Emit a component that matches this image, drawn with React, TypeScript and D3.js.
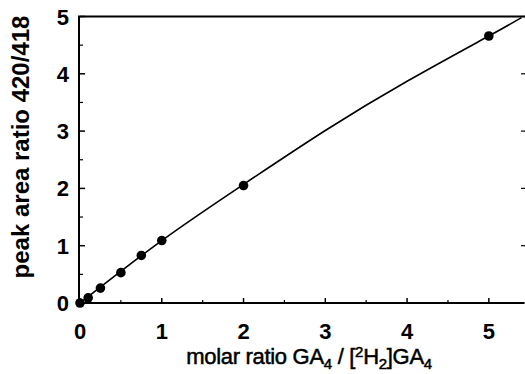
import React from "react";
import * as d3 from "d3";

const pointX = [0, 0.1, 0.25, 0.5, 0.75, 1, 2, 5];
const pointY = [0, 0.09, 0.26, 0.53, 0.83, 1.09, 2.05, 4.66];
const curveX = [0, 1, 2, 3, 4, 5, 5.4];
const curveY = [0, 1.09, 2.07, 3.01, 3.87, 4.66, 4.98];
const xTicks = [0, 1, 2, 3, 4, 5];
const yTicks = [0, 1, 2, 3, 4, 5];
const xMinor = [0.5, 1.5, 2.5, 3.5, 4.5];
const yMinor = [0.5, 1.5, 2.5, 3.5, 4.5];

export default function App() {
  const W = 525, H = 374;
  const x = d3.scaleLinear().domain([0, 5.43]).range([80, 524]);
  const y = d3.scaleLinear().domain([0, 5]).range([303, 16.5]);
  const line = d3
    .line<number>()
    .x((_, i) => x(curveX[i]))
    .y((_, i) => y(curveY[i]))
    .curve(d3.curveNatural);
  const font = "'Liberation Sans', Arial, sans-serif";
  return (
    <svg
      width={W}
      height={H}
      style={{ position: "absolute", left: 0, top: 0, background: "#fff" }}
      fontFamily={font}
    >
      <defs>
        <clipPath id="plot">
          <rect x={x(0)} y={y(5)} width={525 - x(0)} height={y(0) - y(5)} />
        </clipPath>
      </defs>
      <path
        d={line(curveX) || ""}
        fill="none"
        stroke="#000"
        strokeWidth={1.6}
        clipPath="url(#plot)"
      />
      {pointX.map((v, i) => (
        <circle key={i} cx={x(v)} cy={y(pointY[i])} r={4.8} fill="#000" />
      ))}
      {/* axes */}
      <line x1={x(0) - 1} x2={x(0) - 1} y1={y(5)} y2={y(0) + 1} stroke="#000" strokeWidth={2} />
      <line x1={x(0) - 1} x2={524} y1={y(0)} y2={y(0)} stroke="#000" strokeWidth={2} />
      <line x1={x(0) - 2} x2={525} y1={y(5)} y2={y(5)} stroke="#000" strokeWidth={2} />
      {yTicks.map((t) => (
        <g key={"y" + t}>
          <line x1={x(0)} x2={x(0) + 5} y1={y(t)} y2={y(t)} stroke="#000" strokeWidth={1.5} />
          <line x1={521} x2={525} y1={y(t)} y2={y(t)} stroke="#000" strokeWidth={1.2} />
          <text x={69} y={y(t) + 8} textAnchor="end" fontSize={22} fontWeight="bold">
            {t}
          </text>
        </g>
      ))}
      {yMinor.map((t) => (
        <line key={"ym" + t} x1={x(0)} x2={x(0) + 3} y1={y(t)} y2={y(t)} stroke="#000" strokeWidth={1.2} />
      ))}
      {xTicks.map((t) => (
        <g key={"x" + t}>
          <line x1={x(t)} x2={x(t)} y1={y(0)} y2={y(0) - 5} stroke="#000" strokeWidth={1.5} />
          <text x={x(t)} y={339} textAnchor="middle" fontSize={22} fontWeight="bold">
            {t}
          </text>
        </g>
      ))}
      {xMinor.map((t) => (
        <line key={"xm" + t} x1={x(t)} x2={x(t)} y1={y(0)} y2={y(0) - 3} stroke="#000" strokeWidth={1.2} />
      ))}
      <text
        x={309}
        y={364}
        textAnchor="middle"
        fontSize={22}
        stroke="#000"
        strokeWidth={0.5}
        letterSpacing={-0.3}
      >
        molar ratio GA
        <tspan fontSize={15} dy={5}>4</tspan>
        <tspan dy={-5}> / [</tspan>
        <tspan fontSize={15} dy={-7}>2</tspan>
        <tspan dy={7}>H</tspan>
        <tspan fontSize={15} dy={5}>2</tspan>
        <tspan dy={-5}>]GA</tspan>
        <tspan fontSize={15} dy={5}>4</tspan>
      </text>
      <text
        transform={`translate(29,${147}) rotate(-90)`}
        textAnchor="middle"
        fontSize={24}
        fontWeight="bold"
      >
        peak area ratio 420/418
      </text>
    </svg>
  );
}
